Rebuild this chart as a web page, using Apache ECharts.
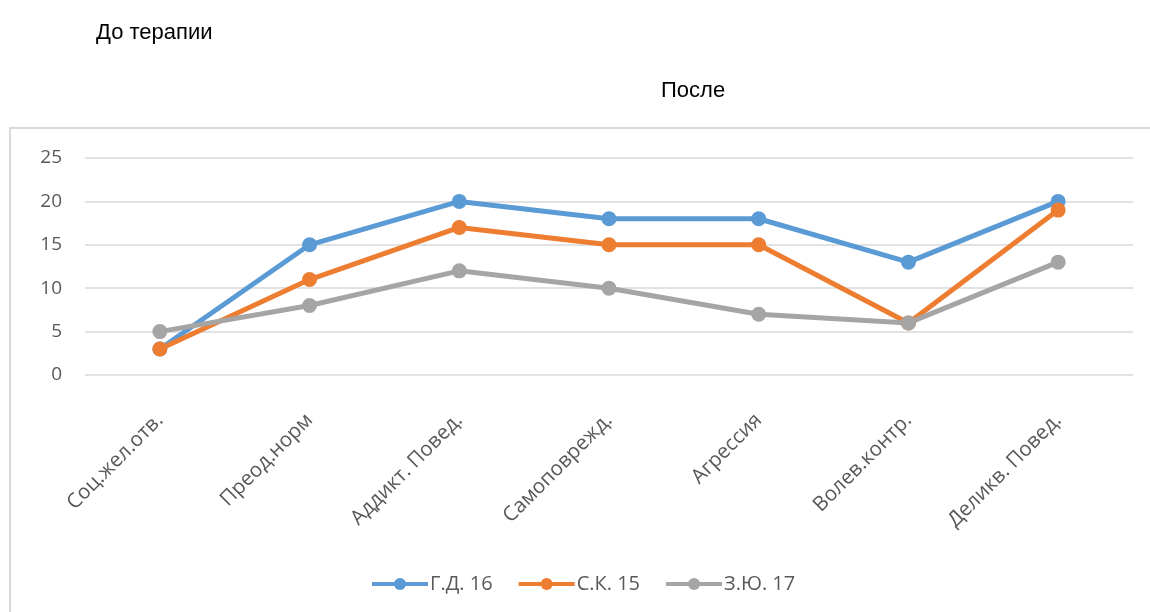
<!DOCTYPE html>
<html><head><meta charset="utf-8">
<script src="https://cdn.jsdelivr.net/npm/echarts@6/dist/echarts.min.js"></script>
<style>html,body{margin:0;padding:0;background:#fff}#c{width:1150px;height:612px}</style>
</head><body><div id="c"></div>
<script>
const categories = ['Соц.жел.отв.', 'Преод.норм', 'Аддикт. Повед.', 'Самоповрежд.', 'Агрессия', 'Волев.контр.', 'Деликв. Повед.'];
const seriesNames = ['Г.Д. 16', 'С.К. 15', 'З.Ю. 17'];
const gd16 = [3, 15, 20, 18, 18, 13, 20];
const sk15 = [3, 11, 17, 15, 15, 6, 19];
const zu17 = [5, 8, 12, 10, 7, 6, 13];
const colors = ['#5b9bd5', '#ed7d31', '#a5a5a5'];
const allData = [gd16, sk15, zu17];
const titleFont = 'Liberation Sans, Arial';

const chart = echarts.init(document.getElementById('c'));
chart.setOption({
  animation: false,
  backgroundColor: '#fff',
  title: [
    {text: 'До терапии', left: 91, top: 17, textStyle: {fontFamily: titleFont, fontSize: 22, fontWeight: 'normal', color: '#000'}},
    {text: 'После', left: 656, top: 75, textStyle: {fontFamily: titleFont, fontSize: 22, fontWeight: 'normal', color: '#000'}}
  ],
  graphic: [{
    type: 'rect', shape: {x: 10, y: 128, width: 1160, height: 520},
    style: {fill: 'none', stroke: '#d9d9d9', lineWidth: 2}, silent: true
  }],
  legend: {
    bottom: 13, left: 365, itemWidth: 56, itemHeight: 15, itemGap: 24,
    textStyle: {fontFamily: 'Open Sans, Noto Sans', fontSize: 20, color: '#595959', padding: [0, 0, 0, -3]},
    lineStyle: {width: 4},
    data: seriesNames
  },
  grid: {left: 85, right: 17, top: 158, bottom: 237, containLabel: false},
  xAxis: {
    type: 'category', data: categories, boundaryGap: true,
    axisLine: {show: false}, axisTick: {show: false},
    axisLabel: {rotate: 45, margin: 42, fontFamily: 'Open Sans, Noto Sans', fontSize: 20.5, color: '#595959', interval: 0}
  },
  yAxis: {
    type: 'value', min: 0, max: 25, interval: 5,
    axisLine: {show: false}, axisTick: {show: false},
    axisLabel: {margin: 23, fontFamily: 'Open Sans, Noto Sans', fontSize: 19, color: '#595959'},
    splitLine: {lineStyle: {color: '#d9d9d9', width: 1.5}}
  },
  series: allData.map((d, i) => ({
    name: seriesNames[i], type: 'line', data: d,
    symbol: 'circle', symbolSize: 15,
    lineStyle: {width: 5, color: colors[i]},
    itemStyle: {color: colors[i]}
  }))
});
</script></body></html>
